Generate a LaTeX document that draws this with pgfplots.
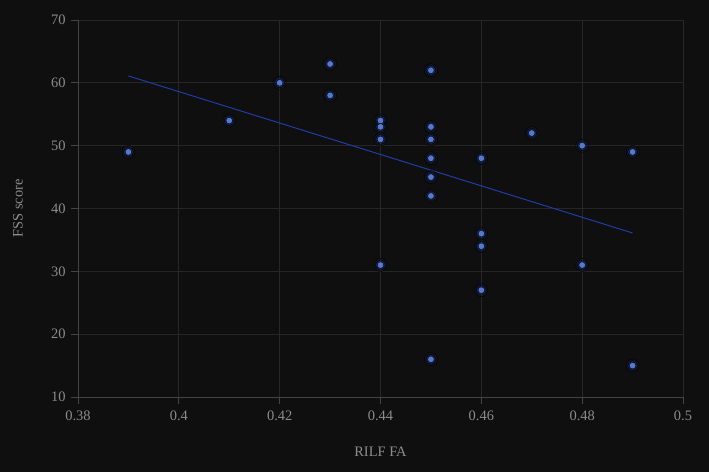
\documentclass[border=0pt]{standalone}
\usepackage{pgfplots}
\pgfplotsset{compat=1.18}
\usepackage{fontspec}
\setmainfont{Liberation Serif}
\definecolor{bg}{HTML}{0F0F0F}
\definecolor{gridc}{HTML}{262626}
\definecolor{axc}{HTML}{444444}
\definecolor{txt}{HTML}{8C8C8C}
\definecolor{pt}{HTML}{5579D2}
\definecolor{glow}{HTML}{3558C8}
\definecolor{fitc}{HTML}{1F3DA6}

\pgfplotstableread{
x     y
0.39  49
0.41  54
0.42  60
0.43  63
0.43  58
0.44  54
0.44  53
0.44  51
0.44  31
0.45  62
0.45  62
0.45  53
0.45  51
0.45  48
0.45  45
0.45  42
0.45  16
0.46  48
0.46  36
0.46  34
0.46  27
0.47  52
0.48  50
0.48  31
0.49  49
0.49  15
}\fss

\begin{document}
\begin{tikzpicture}[x=1bp,y=1bp]
\fill[bg] (-78,-75) rectangle (631,397);
\begin{axis}[
  at={(0,0)}, anchor=origin,
  width=605bp, height=377bp, scale only axis,
  xmin=0.38, xmax=0.5, ymin=10, ymax=70,
  xtick={0.38,0.4,...,0.5},
  xticklabels={0.38,0.4,0.42,0.44,0.46,0.48,0.5},
  ytick={10,20,...,70},
  axis x line*=bottom, axis y line*=left,
  axis line style={axc, line width=0.8pt, -},
  tick style={axc, line width=0.8pt},
  tick align=outside, major tick length=7bp,
  grid=major, grid style={gridc, line width=0.9pt},
  tick label style={txt, font=\fontsize{14.5}{14.5}\selectfont},
  /pgf/number format/assume math mode=true,
  xticklabel style={yshift=-3bp},
  yticklabel style={xshift=-2bp},
  label style={txt, font=\fontsize{14.5}{14.5}\selectfont},
  xlabel={RILF FA}, ylabel={FSS score},
  xlabel style={at={(axis description cs:0.5,0)}, anchor=center, yshift=-55bp},
  ylabel style={at={(axis description cs:0,0.5)}, anchor=center, yshift=60bp},
  clip=false,
]
\addplot[fitc, line width=1pt] coordinates {(0.39,61.1) (0.49,36.1)};
\addplot[only marks, mark=*, mark size=6.5bp, mark options={draw=none, fill=glow, fill opacity=0.12}] table {\fss};
\addplot[only marks, mark=*, mark size=5bp, mark options={draw=none, fill=glow, fill opacity=0.18}] table {\fss};
\addplot[only marks, mark=*, mark size=3.3bp, mark options={draw=none, fill=pt}] table {\fss};
\end{axis}
\end{tikzpicture}
\end{document}
